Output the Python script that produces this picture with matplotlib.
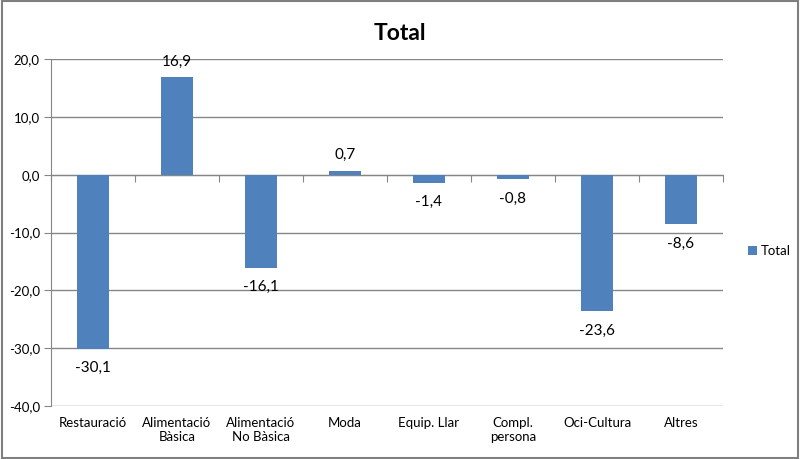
import numpy as np
import matplotlib.pyplot as plt
from matplotlib.patches import Rectangle
from matplotlib.ticker import FuncFormatter
import matplotlib.transforms as mtransforms

plt.rcParams['font.family'] = ['Lato', 'DejaVu Sans']

categories = ['Restauració', 'Alimentació\nBàsica', 'Alimentació\nNo Bàsica', 'Moda',
              'Equip. Llar', 'Compl.\npersona', 'Oci-Cultura', 'Altres']
values = [-30.1, 16.9, -16.1, 0.7, -1.4, -0.8, -23.6, -8.6]
yticks = [-40, -30, -20, -10, 0, 10, 20]

bar_color = '#4F81BD'
grid_color = '#868686'

fig = plt.figure(figsize=(8, 4.59), dpi=100)
ax = fig.add_axes([51/800, 53/459, 672/800, 347/459])

x = np.arange(len(categories))
ax.bar(x, values, width=0.39, color=bar_color, label='Total', zorder=3)

ax.set_xlim(-0.5, len(categories) - 0.5)
ax.set_ylim(-40, 20)
ax.set_yticks(yticks)
ax.yaxis.set_major_formatter(FuncFormatter(lambda v, p: '{:.1f}'.format(v).replace('.', ',')))
ax.yaxis.grid(True, color=grid_color, linewidth=1, zorder=0)
ax.tick_params(axis='y', length=5, color=grid_color, labelsize=9.5, pad=3)

# category axis sits at zero, labels at bottom
ax.spines['bottom'].set_position(('data', 0))
ax.spines['bottom'].set_color(grid_color)
ax.spines['left'].set_color(grid_color)
ax.spines['top'].set_visible(False)
ax.spines['right'].set_visible(False)
ax.set_xticks(np.arange(-0.5, len(categories), 1))
ax.tick_params(axis='x', length=5, color=grid_color, labelbottom=False)

trans = mtransforms.blended_transform_factory(ax.transData, ax.transAxes)
for i, c in enumerate(categories):
    ax.annotate(c, (i, 0), xycoords=trans, xytext=(0, -8), textcoords='offset points',
                ha='center', va='top', fontsize=9.5, linespacing=1.2)

for i, v in enumerate(values):
    off = 11 if v >= 0 else -14
    ax.annotate('{:.1f}'.format(v).replace('.', ','), (i, v), xytext=(0, off),
                textcoords='offset points', ha='center', va='center', fontsize=11)

fig.suptitle('Total', x=0.5, y=0.95, fontsize=16.5, fontweight='bold')

fig.legend(loc='center left', bbox_to_anchor=(0.92, 0.453), frameon=False,
           handlelength=0.7, handleheight=0.7, handletextpad=0.3, fontsize=9.5)

fig.patches.append(Rectangle((0.002, 0.003), 0.996, 0.994, transform=fig.transFigure,
                             fill=False, edgecolor='#7f7f7f', linewidth=1.5))

plt.savefig('out.png', dpi=100)
